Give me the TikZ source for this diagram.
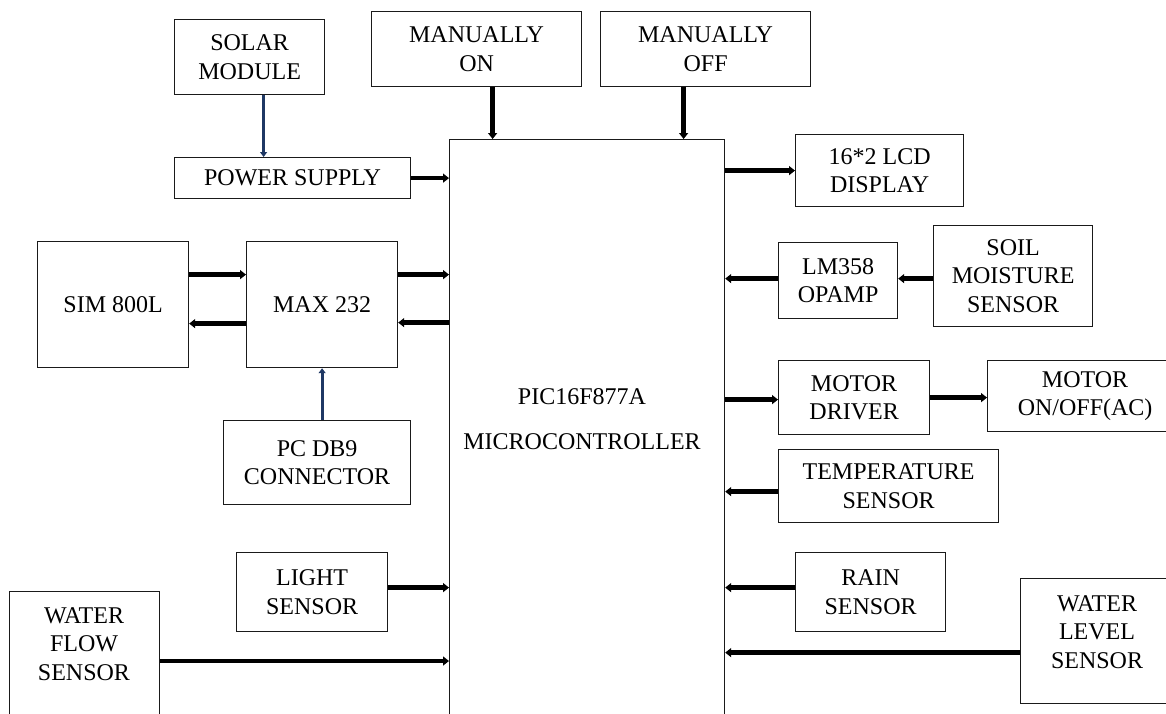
\documentclass[tikz,border=0pt]{standalone}
\usepackage{fontspec}
\setmainfont{Liberation Serif}
\usepackage{xcolor}
\usepackage{tikz}
\usetikzlibrary{arrows.meta}
\definecolor{boxdraw}{HTML}{1A1A1A}
\definecolor{busdraw}{HTML}{000000}
\definecolor{navydraw}{HTML}{1F3864}
\tikzset{
  blk/.style={rectangle, draw=boxdraw, line width=1.2pt, align=center, font=\fontsize{24}{28.5}\selectfont, inner sep=2pt, anchor=north west},
  txt/.style={align=center, font=\fontsize{24}{28.5}\selectfont, inner sep=0pt},
  arr/.style={-{Triangle[length=6pt, width=9pt]}, line width=4.5pt, draw=busdraw},
  arrnavy/.style={-{Triangle[length=5pt, width=7pt]}, line width=3pt, draw=navydraw},
}

\begin{document}
\begin{tikzpicture}[x=1pt, y=-1pt]
  \useasboundingbox (0,0) rectangle (1166,713);
  \clip (0,0) rectangle (1166,713);
  % left column
  \node[blk, minimum width=150, minimum height=75] (solar) at (174,19) {SOLAR\\MODULE};
  \node[blk, minimum width=236, minimum height=41] (power) at (174,157) {POWER SUPPLY};
  \node[blk, minimum width=151, minimum height=126] (sim) at (37,241) {SIM 800L};
  \node[blk, minimum width=151, minimum height=126] (max) at (246,241) {MAX 232};
  \node[blk, minimum width=187, minimum height=84] (pcdb9) at (223,420) {PC DB9\\CONNECTOR};
  \node[blk, minimum width=151, minimum height=79] (light) at (236,552) {LIGHT\\SENSOR};
  \node[blk, minimum width=150, minimum height=200] (flowbox) at (9,591) {};
  \node[txt] (flow) at (84,644) {WATER\\FLOW\\SENSOR};
  % top
  \node[blk, minimum width=210, minimum height=75] (manon) at (371,11) {MANUALLY\\ON};
  \node[blk, minimum width=210, minimum height=75] (manoff) at (600,11) {MANUALLY\\OFF};
  % controller
  \node[blk, minimum width=275, minimum height=650] (mcu) at (449,139) {};
  \node[txt] (mcutext) at (582,419) {PIC16F877A\\[16.5pt]MICROCONTROLLER};
  % right column
  \node[blk, minimum width=168, minimum height=72] (lcd) at (795,134) {16*2 LCD\\DISPLAY};
  \node[blk, minimum width=119, minimum height=76] (lm) at (778,242) {LM358\\OPAMP};
  \node[blk, minimum width=159, minimum height=101] (soil) at (933,225) {SOIL\\MOISTURE\\SENSOR};
  \node[blk, minimum width=151, minimum height=74] (driver) at (778,360) {MOTOR\\DRIVER};
  \node[blk, minimum width=195, minimum height=71] (motor) at (987,360) {MOTOR\\ON/OFF(AC)};
  \node[blk, minimum width=220, minimum height=73] (temp) at (778,449) {TEMPERATURE\\SENSOR};
  \node[blk, minimum width=150, minimum height=79] (rain) at (795,552) {RAIN\\SENSOR};
  \node[blk, minimum width=160, minimum height=125] (levelbox) at (1020,578) {};
  \node[txt] (level) at (1097,632) {WATER\\LEVEL\\SENSOR};

  % connectors
  \draw[arrnavy] ([xshift=14pt]solar.south) -- ([xshift=14pt]solar.south |- power.north);
  \draw[arr] (power.east) -- (power.east -| mcu.west);
  \draw[arr] ([xshift=16pt]manon.south) -- ([xshift=16pt]manon.south |- mcu.north);
  \draw[arr] ([xshift=-22pt]manoff.south) -- ([xshift=-22pt]manoff.south |- mcu.north);
  \draw[arr] ([yshift=30pt]sim.east) -- ([yshift=30pt]max.west);
  \draw[arr] ([yshift=-19pt]max.west) -- ([yshift=-19pt]sim.east);
  \draw[arr] ([yshift=30pt]max.east) -- ([yshift=30pt]max.east -| mcu.west);
  \draw[arr] ([yshift=-18pt]max.east -| mcu.west) -- ([yshift=-18pt]max.east);
  \draw[arrnavy] (pcdb9.north -| max.south) -- (max.south);
  \draw[arr] ([yshift=4.5pt]light.east) -- ([yshift=4.5pt]light.east -| mcu.west);
  \draw[arr] ([yshift=-17pt]flow.east -| flowbox.east) -- ([yshift=-17pt]flow.east -| mcu.west);
  \draw[arr] (lcd.west -| mcu.east) -- (lcd.west);
  \draw[arr] ([yshift=2pt]lm.east -| soil.west) -- ([yshift=2pt]lm.east);
  \draw[arr] ([yshift=2pt]lm.west) -- ([yshift=2pt]lm.west -| mcu.east);
  \draw[arr] ([yshift=-2pt]driver.west -| mcu.east) -- ([yshift=-2pt]driver.west);
  \draw[arr] (driver.east) -- (driver.east -| motor.west);
  \draw[arr] ([yshift=-5.5pt]temp.west) -- ([yshift=-5.5pt]temp.west -| mcu.east);
  \draw[arr] ([yshift=4.5pt]rain.west) -- ([yshift=4.5pt]rain.west -| mcu.east);
  \draw[arr] ([yshift=-11.5pt]levelbox.west) -- ([yshift=-11.5pt]levelbox.west -| mcu.east);
\end{tikzpicture}
\end{document}
